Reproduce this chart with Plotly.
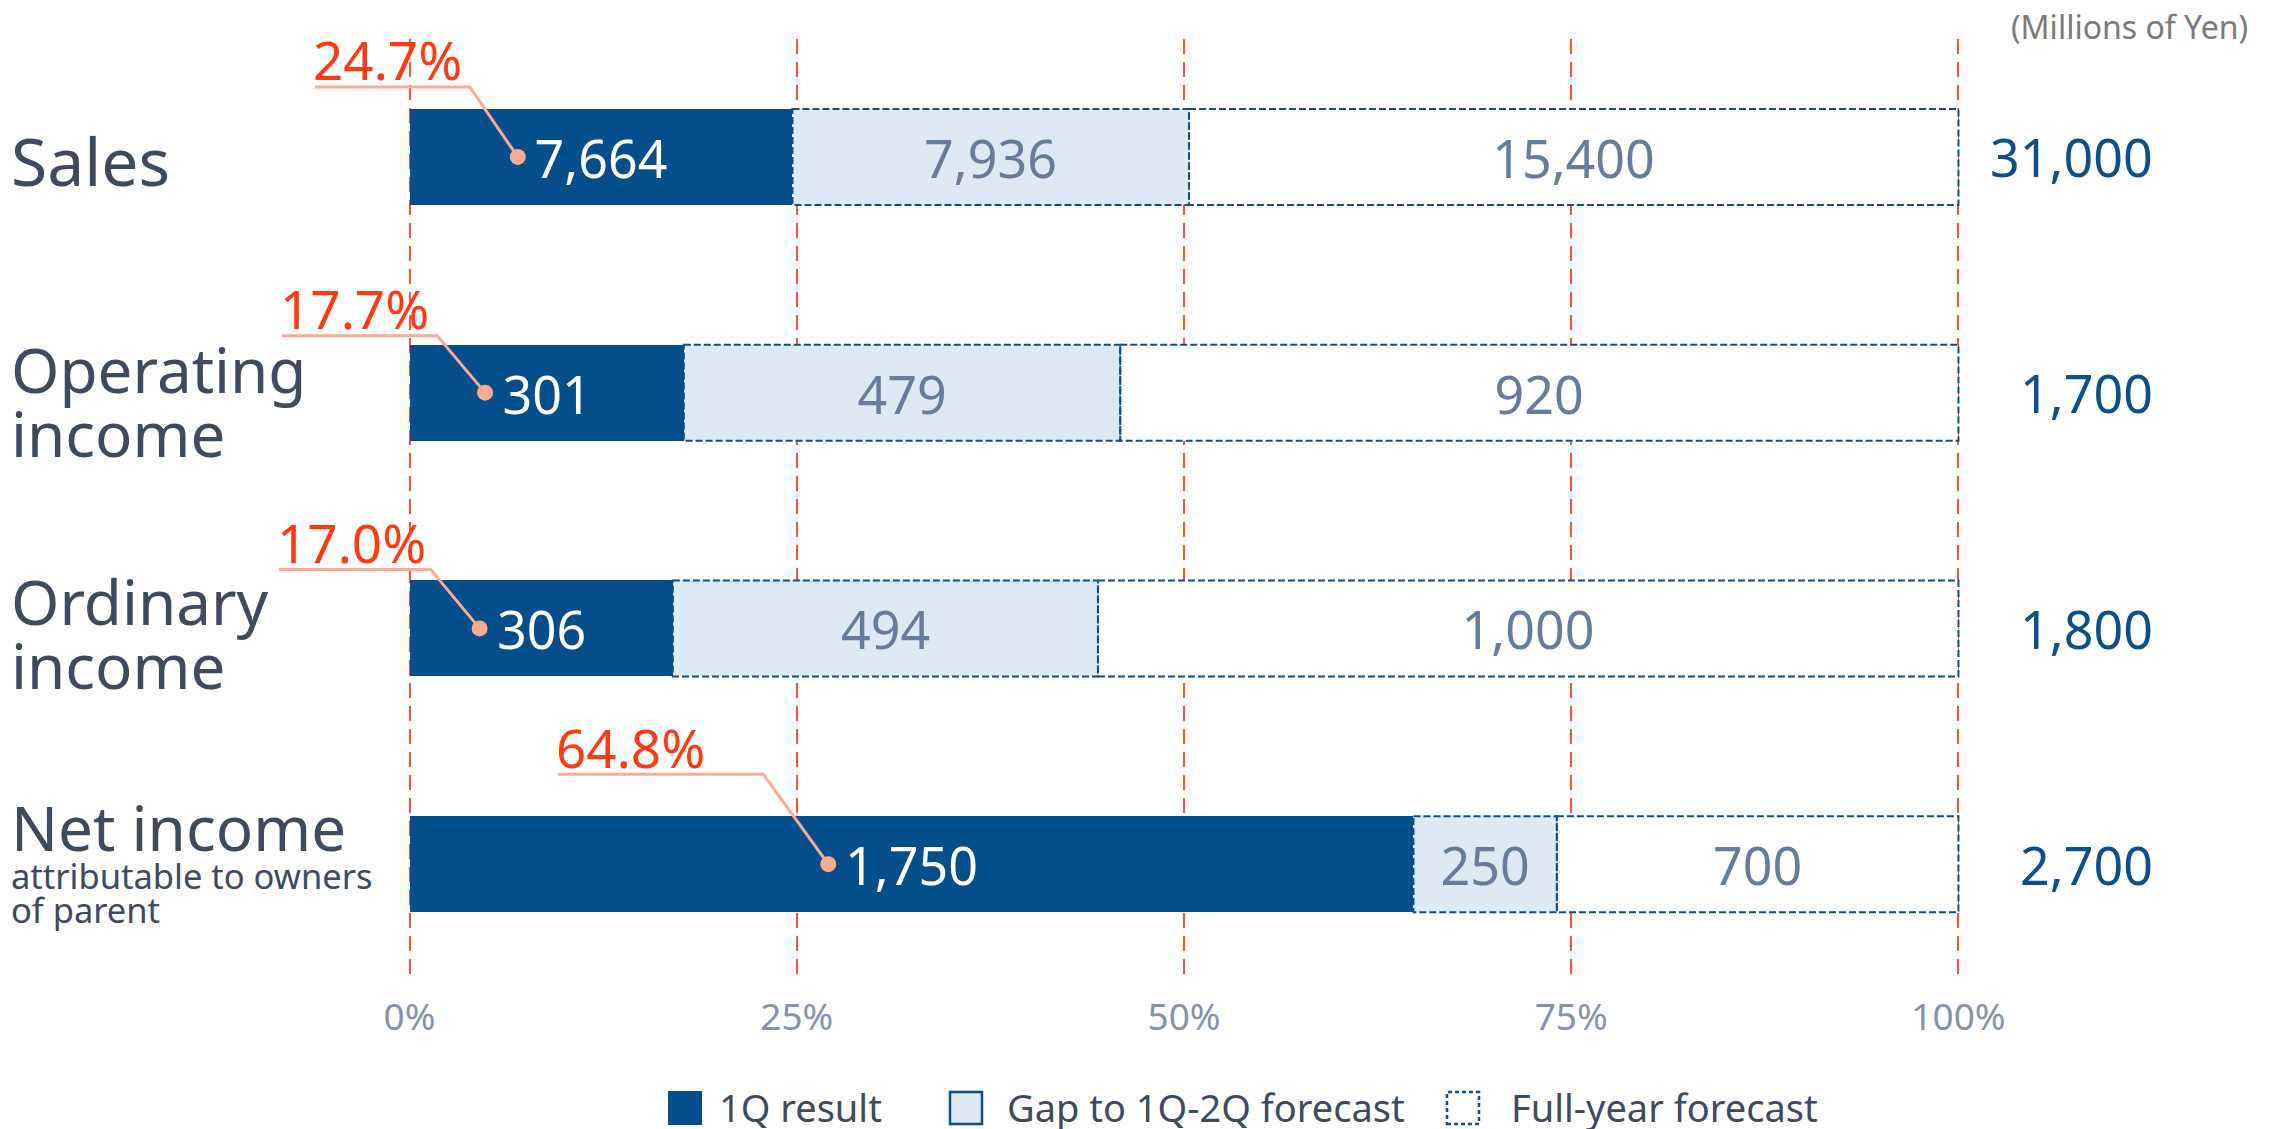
import plotly.graph_objects as go

# ---------------- data ----------------
categories = ["Sales", "Operating income", "Ordinary income", "Net income"]
label_lines = [["Sales"], ["Operating", "income"], ["Ordinary", "income"], ["Net income"]]
sub_lines = [[], [], [], ["attributable to owners", "of parent"]]
q1_result = [7664, 301, 306, 1750]
gap_to_2q = [7936, 479, 494, 250]
rest_of_year = [15400, 920, 1000, 700]
full_year = [31000, 1700, 1800, 2700]
tick_vals = [0, 25, 50, 75, 100]
tick_text = ["0%", "25%", "50%", "75%", "100%"]
legend_names = ["1Q result", "Gap to 1Q-2Q forecast", "Full-year forecast"]
unit_note = "(Millions of Yen)"

# ---------------- styling / geometry ----------------
OFF = 8  # page body margin
W, H = 2284 - OFF, 1129 - OFF
ML, MR, MT = 400, 324, 31
PW = W - ML - MR
PH = 943
MB = H - MT - PH
XR = [-0.1, 100.1]
YR = [3.5, -0.5]
pxu_x = PW / (XR[1] - XR[0])
pxu_y = PH / (YR[0] - YR[1])

DARK = "#034e8b"
LIGHT = "#dde9f5"
BORDER = "#0b4f8c"
VALUE_GREY = "#667c9c"
RED = "#ff3a10"
SALMON = "#fbab94"
GRID = "#ff5230"
LABEL = "#3e4a5e"
TICK = "#8493aa"
FONT = "Noto Sans"
BAR_W = 96 / pxu_y


def dx2p(x):
    return (x - XR[0]) / (XR[1] - XR[0])


def dy2p(y):
    return (YR[0] - y) / (YR[0] - YR[1])


def rx2p(px):  # reference-page pixel x -> paper
    return (px - OFF - ML) / PW


def ry2p(py):  # reference-page pixel y -> paper
    return (MT + PH - (py - OFF)) / PH


# leader geometry per row in px: rise above bar center, horizontal run, elbow dx
leader_rise = [70, 57, 59, 90]
leader_run = [155, 155, 152, 205]
leader_dx = [48, 48, 49, 65]

rows = list(range(len(categories)))
pct_q1 = [a / t * 100 for a, t in zip(q1_result, full_year)]
pct_gap = [a / t * 100 for a, t in zip(gap_to_2q, full_year)]
pct_rest = [a / t * 100 for a, t in zip(rest_of_year, full_year)]
base_gap = pct_q1
base_rest = [a + b for a, b in zip(pct_q1, pct_gap)]

fmt = lambda v: f"{v:,}"

fig = go.Figure()
for xs, base, fill, vals, tcol, name in (
        (pct_q1, None, DARK, q1_result, "white", legend_names[0]),
        (pct_gap, base_gap, LIGHT, gap_to_2q, VALUE_GREY, legend_names[1]),
        (pct_rest, base_rest, "white", rest_of_year, VALUE_GREY, legend_names[2])):
    fig.add_trace(go.Bar(
        y=rows, x=xs, base=base, orientation="h", width=BAR_W,
        marker=dict(color=fill, line=dict(width=0)),
        text=[fmt(v) for v in vals], textposition="inside", insidetextanchor="middle",
        textfont=dict(family=FONT, size=52, color=tcol), constraintext="none",
        name=name, showlegend=False, hoverinfo="skip"))

shapes = []
annotations = []

# dashed outlines for forecast segments
for r in rows:
    for x0, w in ((base_gap[r], pct_gap[r]), (base_rest[r], pct_rest[r])):
        shapes.append(dict(type="rect", xref="x", yref="y", x0=x0, x1=x0 + w,
                           y0=r - BAR_W / 2, y1=r + BAR_W / 2, layer="above",
                           line=dict(color=BORDER, width=2, dash="7px,3px"),
                           fillcolor="rgba(0,0,0,0)"))


def text_px(s, size):
    return sum((0.26 if c == "," else 0.572) for c in s) * size


# leaders, dots and percentage labels
dot_x, dot_y = [], []
for r in rows:
    center = pct_q1[r] / 2
    lab = fmt(q1_result[r])
    dx = center - (text_px(lab, 52) / 2 + 17) / pxu_x
    dot_x.append(dx)
    dot_y.append(r)
    elbow_x = dx - leader_dx[r] / pxu_x
    start_x = elbow_x - leader_run[r] / pxu_x
    line_y = r - leader_rise[r] / pxu_y
    shapes.append(dict(type="path", xref="paper", yref="paper", layer="above",
                       path=(f"M {dx2p(start_x)},{dy2p(line_y)} "
                             f"L {dx2p(elbow_x)},{dy2p(line_y)} L {dx2p(dx)},{dy2p(r)}"),
                       line=dict(color=SALMON, width=3)))
    annotations.append(dict(xref="paper", yref="paper", x=dx2p(start_x - 4 / pxu_x),
                            y=dy2p(line_y - 27 / pxu_y), text=f"{pct_q1[r]:.1f}%",
                            showarrow=False, xanchor="left", yanchor="middle",
                            font=dict(family=FONT, size=53, color=RED)))

fig.add_trace(go.Scatter(x=dot_x, y=dot_y, mode="markers", cliponaxis=False,
                         marker=dict(size=16, color=SALMON), showlegend=False,
                         hoverinfo="skip"))

# category labels
main_offsets = [[3], [-24, 40], [-27, 37], [-37]]
sub_offsets = [[], [], [], [11, 45]]
main_sizes = [66, 62, 62, 62]
lx = rx2p(9)
for r in rows:
    for t, off in zip(label_lines[r], main_offsets[r]):
        annotations.append(dict(xref="paper", yref="paper", x=lx, y=dy2p(r + off / pxu_y),
                                text=t, showarrow=False, xanchor="left", yanchor="middle",
                                font=dict(family=FONT, size=main_sizes[r], color=LABEL)))
    for t, off in zip(sub_lines[r], sub_offsets[r]):
        annotations.append(dict(xref="paper", yref="paper", x=lx, y=dy2p(r + off / pxu_y),
                                text=t, showarrow=False, xanchor="left", yanchor="middle",
                                font=dict(family=FONT, size=34.5, color=LABEL)))

# totals on the right
for r in rows:
    annotations.append(dict(xref="paper", yref="paper", x=rx2p(2155), y=dy2p(r),
                            text=fmt(full_year[r]), showarrow=False, xanchor="right",
                            yanchor="middle", font=dict(family=FONT, size=52, color=BORDER)))

# unit note
annotations.append(dict(xref="paper", yref="paper", x=rx2p(2250), y=ry2p(27),
                        text=unit_note, showarrow=False, xanchor="right", yanchor="middle",
                        font=dict(family=FONT, size=32, color="#7a7a7a")))

# manual legend
leg_y0, leg_y1, leg_yc = 1092, 1124, 1107
legend_items = [
    (669, dict(color=DARK, width=2, dash="solid"), DARK, 717),
    (950, dict(color=BORDER, width=2.5, dash="solid"), LIGHT, 1005),
    (1447, dict(color=BORDER, width=2.5, dash="4px,3px"), "white", 1509),
]
for (sx, ln, fc, txp), name in zip(legend_items, legend_names):
    shapes.append(dict(type="rect", xref="paper", yref="paper",
                       x0=rx2p(sx), x1=rx2p(sx + 32),
                       y0=ry2p(leg_y1), y1=ry2p(leg_y0),
                       line=ln, fillcolor=fc))
    annotations.append(dict(xref="paper", yref="paper", x=rx2p(txp),
                            y=ry2p(leg_yc), text=name, showarrow=False,
                            xanchor="left", yanchor="middle",
                            font=dict(family=FONT, size=38, color=LABEL)))

fig.update_layout(
    width=W, height=H,
    margin=dict(l=ML, r=MR, t=MT, b=MB),
    paper_bgcolor="white", plot_bgcolor="white",
    barmode="overlay", bargap=0,
    showlegend=False,
    shapes=shapes, annotations=annotations,
    xaxis=dict(range=XR, tickvals=tick_vals, ticktext=tick_text, showgrid=True,
               gridcolor=GRID, gridwidth=2, griddash="15px,8px", zeroline=False,
               showline=False, ticks="", ticklabelstandoff=10,
               tickfont=dict(family=FONT, size=37, color=TICK), fixedrange=True),
    yaxis=dict(range=YR, showgrid=False, zeroline=False, showline=False,
               showticklabels=False, ticks="", fixedrange=True),
    font=dict(family=FONT),
)

fig.write_html("out.html")
